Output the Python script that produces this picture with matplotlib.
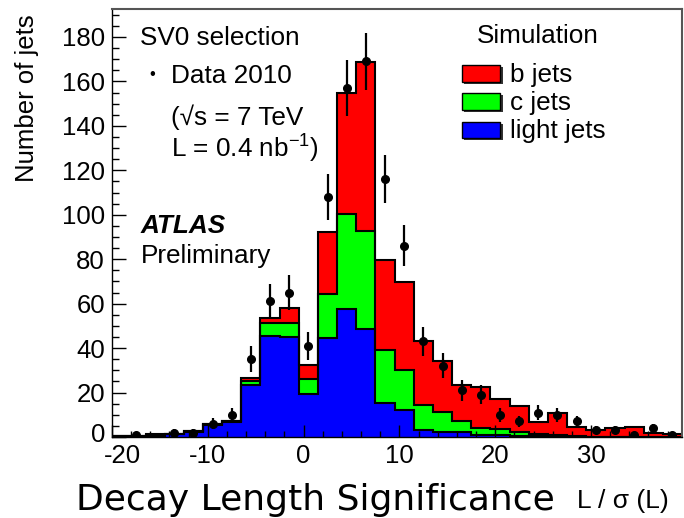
import numpy as np
import matplotlib
matplotlib.use("Agg")
import matplotlib.pyplot as plt
from matplotlib.patches import Rectangle
from matplotlib.transforms import ScaledTranslation

plt.rcParams['font.family'] = ['Liberation Sans', 'DejaVu Sans']
plt.rcParams['mathtext.fontset'] = 'custom'
plt.rcParams['mathtext.rm'] = 'Liberation Sans'

# ---- data ----
bin_edges = np.arange(-20.5, 39.6, 2.0)
bin_centers = 0.5 * (bin_edges[:-1] + bin_edges[1:])

light_jets = [0.3, 0.4, 0.6, 1.2, 2.4, 5.3, 6.6, 23.3, 45.5, 44.9, 19.4, 44.5, 57.5, 48.6,
              15.2, 12.0, 3.3, 2.4, 2.2, 1.0, 1.0, 0.5, 0.3, 0.2, 0.1, 0.1, 0.1, 0.1, 0.0, 0.0]
c_jets = [0.0, 0.1, 0.3, 0.2, 0.3, 0.4, 0.4, 1.9, 5.7, 6.3, 6.6, 19.8, 42.8, 43.9,
          24.0, 18.3, 11.1, 9.0, 5.2, 2.9, 2.5, 1.6, 1.1, 0.8, 0.3, 0.1, 0.1, 0.1, 0.1, 0.1]
b_jets = [0.0, 0.1, 0.3, 0.1, 0.1, 0.2, 0.2, 1.2, 2.3, 6.8, 6.4, 27.9, 54.5, 76.3,
          40.5, 39.6, 29.0, 23.0, 16.0, 18.8, 13.5, 11.9, 5.5, 9.7, 4.2, 3.0, 3.7, 4.4, 1.6, 1.3]
data_2010 = [0, 1, 0, 2, 2, 6, 10, 35, 61, 65, 41, 108, 157, 169,
             116, 86, 43, 32, 21, 19, 10, 7, 11, 10, 7, 3, 3, 1, 4, 1]

x_ticks = [-20, -10, 0, 10, 20, 30]
y_ticks = [0, 20, 40, 60, 80, 100, 120, 140, 160, 180]

W, H = 684, 518
fig = plt.figure(figsize=(W / 100, H / 100), dpi=100)
L, R, T, B = 112, 682, 9, 437
ax = fig.add_axes([L / W, 1 - B / H, (R - L) / W, (B - T) / H])

light = np.array(light_jets)
cj = np.array(c_jets)
bj = np.array(b_jets)
lvl1 = light
lvl2 = light + cj
lvl3 = light + cj + bj

ax.stairs(lvl3, bin_edges, fill=True, facecolor='#ff0000', edgecolor='none', zorder=1)
ax.stairs(lvl2, bin_edges, fill=True, facecolor='#00ff00', edgecolor='none', zorder=1.1)
ax.stairs(lvl1, bin_edges, fill=True, facecolor='#0000ff', edgecolor='none', zorder=1.2)
for lv in (lvl3, lvl2, lvl1):
    ax.stairs(lv, bin_edges, fill=False, edgecolor='black', linewidth=1.5, zorder=1.3)

d = np.array(data_2010, dtype=float)
m = d > 0
ax.errorbar(bin_centers[m], d[m], yerr=np.sqrt(d[m]), fmt='o', color='black',
            ms=5.5, elinewidth=1.6, capsize=0, zorder=3)

ax.set_xlim(-20, 39.5)
ax.set_ylim(0, 192.6)
ax.set_xticks(x_ticks)
ax.set_xticklabels([str(v) for v in x_ticks])
ax.set_xticks(np.arange(-20, 40, 2), minor=True)
ax.set_yticks(y_ticks)
ax.set_yticklabels([str(v) for v in y_ticks])
ax.set_yticks(np.arange(0, 192, 5), minor=True)
ax.tick_params(axis='both', which='both', direction='in', labelsize=18.5, width=1.0)
ax.tick_params(axis='x', which='major', length=9, pad=5)
ax.tick_params(axis='x', which='minor', length=4.5)
ax.tick_params(axis='y', which='major', length=10, pad=5)
ax.tick_params(axis='y', which='minor', length=5)
ax.tick_params(top=False, right=False, which='both')
for s in ('left', 'bottom'):
    ax.spines[s].set_color('black')
    ax.spines[s].set_linewidth(1.0)
for s in ('top', 'right'):
    ax.spines[s].set_color('#555555')
    ax.spines[s].set_linewidth(1.5)

# nudge the "0" y label up a little and the "-20" label right, as in the reference
fig.canvas.draw()
ylabs = ax.get_yticklabels()
ylabs[0].set_transform(ylabs[0].get_transform() + ScaledTranslation(0, 4 / 100, fig.dpi_scale_trans))
xlabs = ax.get_xticklabels()
xlabs[0].set_transform(xlabs[0].get_transform() + ScaledTranslation(10 / 100, 0, fig.dpi_scale_trans))

def fx(px):
    return px / W

def fy(py):
    return 1 - py / H

fs = 18.8
fig.text(fx(140), fy(45), "SV0 selection", fontsize=fs, va='baseline', ha='left')
fig.text(fx(152), fy(75), "•", fontsize=12, va='center', ha='center')
fig.text(fx(171), fy(83), "Data 2010", fontsize=fs, va='baseline', ha='left')
fig.text(fx(171), fy(125), "(√s = 7 TeV", fontsize=fs, va='baseline', ha='left')
fig.text(fx(171), fy(157), r"L = 0.4 nb$^{\mathregular{-1}}$)", fontsize=fs, va='baseline', ha='left')
fig.text(fx(141), fy(233), "ATLAS", fontsize=fs, fontweight='bold', fontstyle='italic',
         va='baseline', ha='left')
fig.text(fx(141), fy(263), "Preliminary", fontsize=fs, va='baseline', ha='left')

# legend
fig.text(fx(477), fy(43), "Simulation", fontsize=fs, va='baseline', ha='left')
legend_items = [("b jets", '#ff0000', 65, 82), ("c jets", '#00ff00', 93, 110),
                ("light jets", '#0000ff', 122, 138)]
for lab, col, y0, y1 in legend_items:
    fig.add_artist(Rectangle((fx(464), fy(y1 + 2)), (501 - 462) / W, (y1 - y0) / H,
                             transform=fig.transFigure, facecolor='#333333', edgecolor='none'))
    fig.add_artist(Rectangle((fx(462), fy(y1)), (501 - 463) / W, (y1 - y0) / H,
                             transform=fig.transFigure, facecolor=col, edgecolor='black',
                             linewidth=1.0))
    fig.text(fx(510), fy(y1), lab, fontsize=fs, va='baseline', ha='left')

fig.text(fx(27), fy(98), "Number of jets", fontsize=18.5, rotation=90, va='center', ha='center')
fig.text(fx(76), fy(510), "Decay Length Significance", fontsize=26, va='baseline', ha='left',
         family='DejaVu Sans')
fig.text(fx(577), fy(508), "L / σ (L)", fontsize=19, va='baseline', ha='left')

fig.savefig("out.png", dpi=100)
